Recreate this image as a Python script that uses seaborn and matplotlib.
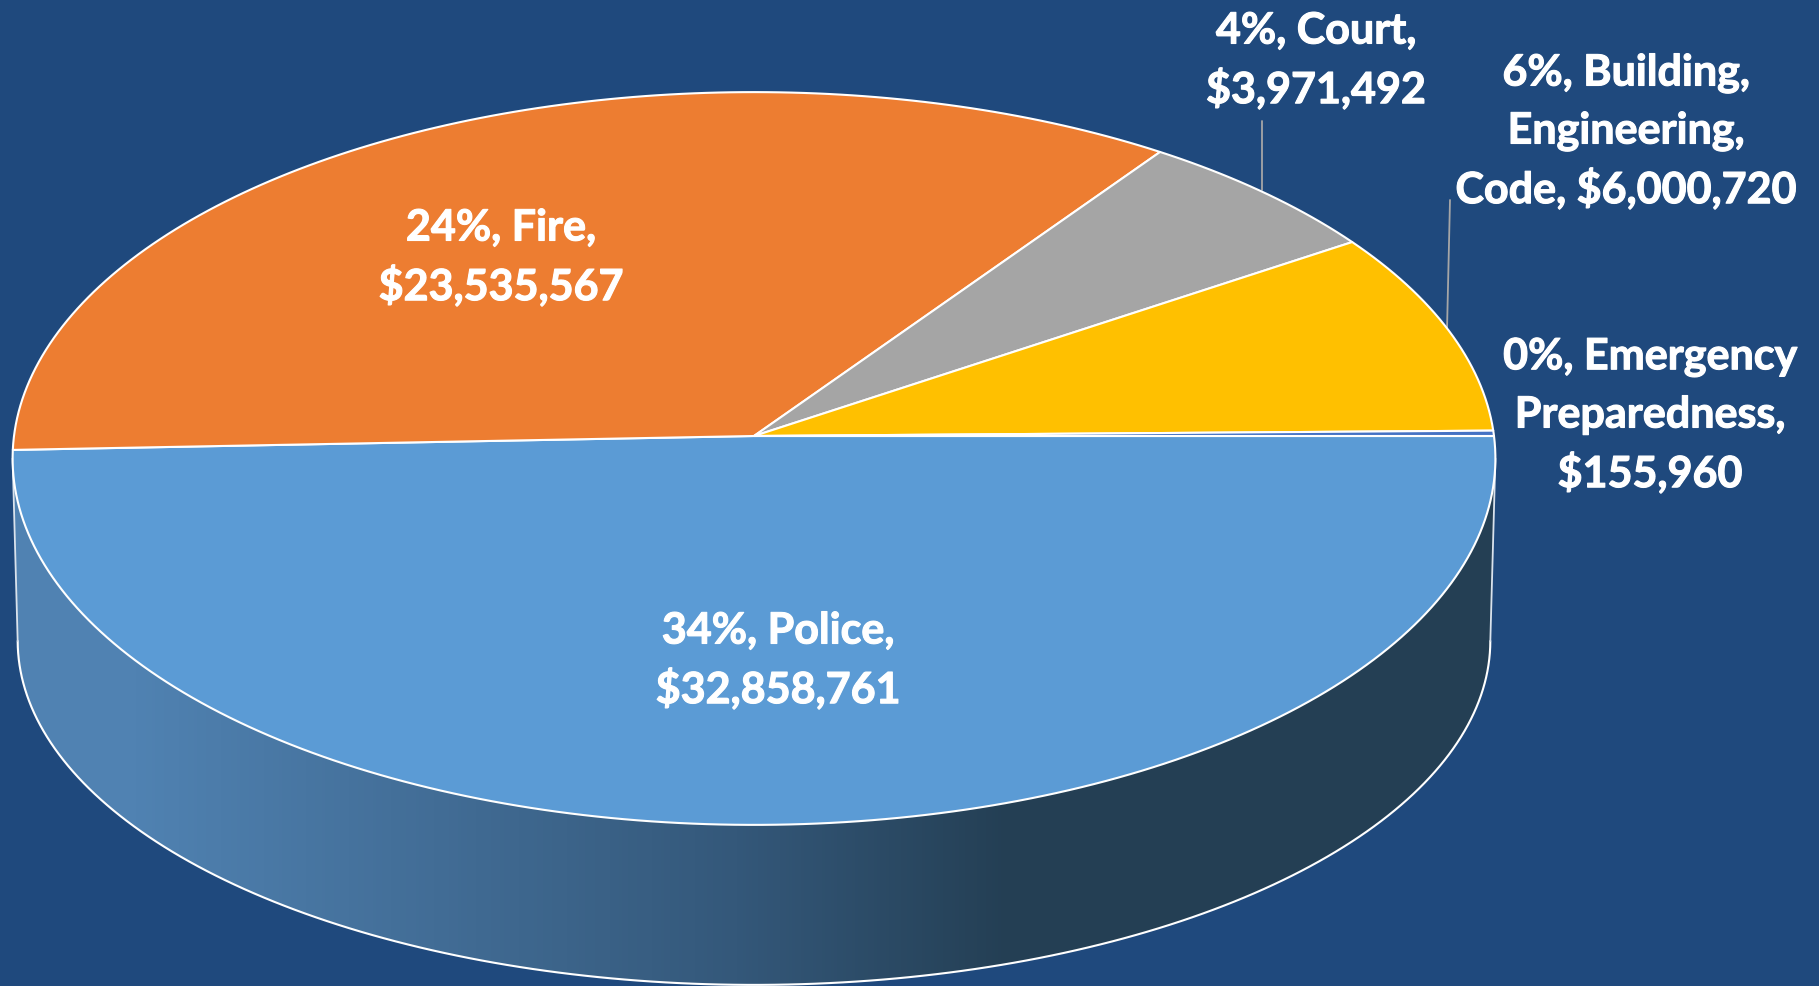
import numpy as np
import matplotlib.pyplot as plt
import matplotlib.patheffects as pe
import seaborn as sns

# data
amounts = [32858761, 23535567, 3971492, 6000720, 155960]
colors = ['#5B9BD5', '#ED7D31', '#A5A5A5', '#FFC000', '#4472C4']
label_text = ['34%, Police,\n$32,858,761', '24%, Fire,\n$23,535,567', '4%, Court,\n$3,971,492',
              '6%, Building,\nEngineering,\nCode, $6,000,720', '0%, Emergency\nPreparedness,\n$155,960']
label_x = [778, 501, 1316, 1626, 1650]
label_y = [657, 254, 57, 128, 412]

sns.set_theme(style='white')
plt.rcParams['font.family'] = ['Lato', 'DejaVu Sans']

bg = '#1F497D'
W, H = 1819, 987
line_step = 58


# pie circle -> picture, with a little perspective
def project(t, r=1.0, cx=754, cy=437, a=740, b=365, k=0.0614):
    X = r * np.cos(np.radians(t))
    Y = r * np.sin(np.radians(t))
    w = 1 + k * Y
    return cx + a * X / w, cy - b * Y / w


def project_low(t):
    return project(t, cy=621, a=735, b=343, k=0.06)


fig = plt.figure(figsize=(W / 100, H / 100), dpi=100, facecolor=bg)
ax = fig.add_axes([0, 0, 1, 1])
ax.set_xlim(0, W)
ax.set_ylim(H, 0)
ax.axis('off')

# side wall with the gradient, between the widest points of the two rims
tt = np.linspace(-3.5, -176.5, 174)
x_top, y_top = project(tt)
x_low, y_low = project_low(tt)
wall_x = np.r_[x_top, x_low[::-1]]
wall_y = np.r_[y_top, y_low[::-1]]
wall = ax.fill(wall_x, wall_y, color='none', zorder=1)[0]
shade = sns.blend_palette(['#5082B2', '#34587A', '#243F54'], as_cmap=True)
grad = np.array([np.interp(np.linspace(0, W, 600), [0, 130, 735, 1010, W], [0, 0, 0.5, 1, 1])])
im = ax.imshow(grad, cmap=shade, vmin=0, vmax=1, extent=[0, W, H, 0], aspect='auto', zorder=1)
im.set_clip_path(wall)
ax.plot(x_low, y_low, color='white', lw=1.5, zorder=2)
for i in [0, -1]:
    ax.plot([x_top[i], x_low[i]], [y_top[i], y_low[i]], color='#D9E2EC', lw=1.3, zorder=2)

# top face, clockwise from the right edge
shares = np.array(amounts) / sum(amounts) * 360
ends = -np.cumsum(shares)
starts = np.r_[0, ends[:-1]]
cx0, cy0 = project(np.array([0.0]), r=0)
for s, e, c in zip(starts, ends, colors):
    t = np.linspace(s, e, max(int(abs(e - s)), 2) + 1)
    x, y = project(t)
    ax.fill(np.r_[cx0, x], np.r_[cy0, y], facecolor=c, edgecolor='white', lw=1.5, joinstyle='round', zorder=3)

# leader lines for the two labels that sit outside
for lx, ly in [([1262, 1262], [122, 191]), ([1450, 1447], [201, 331])]:
    ax.plot(lx, ly, color='#A6A6A6', lw=1.3, zorder=2)

# one text per line, matplotlib's own line layout is uneven with descenders
bold = [pe.withStroke(linewidth=0.8, foreground='white')]
for txt, x, y in zip(label_text, label_x, label_y):
    lines = txt.split('\n')
    for i, line in enumerate(lines):
        ax.text(x, y + (i - (len(lines) - 1) / 2) * line_step, line, color='white', fontsize=31,
                fontweight='bold', ha='center', va='center_baseline', zorder=5, path_effects=bold)

fig.savefig('out.png', dpi=100, facecolor=bg)
